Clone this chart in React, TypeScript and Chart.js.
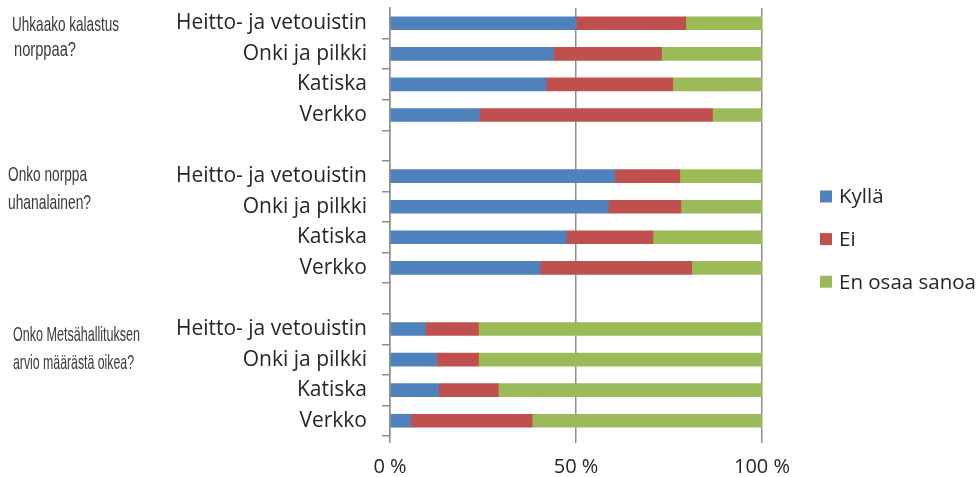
import React, { useEffect, useRef } from "react";
import { Chart, registerables } from "chart.js";

Chart.register(...registerables);

// ---- data ----
const categories = [
  "Heitto- ja vetouistin",
  "Onki ja pilkki",
  "Katiska",
  "Verkko",
  "",
  "Heitto- ja vetouistin",
  "Onki ja pilkki",
  "Katiska",
  "Verkko",
  "",
  "Heitto- ja vetouistin",
  "Onki ja pilkki",
  "Katiska",
  "Verkko",
];
const seriesNames = ["Kyllä", "Ei", "En osaa sanoa"];
const kylla = [50, 44, 42, 24, null, 60.4, 58.7, 47.4, 40.4, null, 9.5, 12.5, 13.1, 5.5];
const ei = [29.5, 29, 34, 62.7, null, 17.5, 19.5, 23.3, 40.7, null, 14.3, 11.3, 16, 32.7];
const enOsaa = [20.5, 27, 24, 13.3, null, 22.1, 21.8, 29.3, 18.9, null, 76.2, 76.2, 70.9, 61.8];
const xTickValues = [0, 50, 100];
const groupQuestions = [
  ["Uhkaako kalastus", "norppaa?"],
  ["Onko norppa", "uhanalainen?"],
  ["Onko Metsähallituksen", "arvio määrästä oikea?"],
];

// ---- layout / style ----
const colors = ["#4F81BD", "#C0504D", "#9BBB59"];
const gridColor = "#8f8f8f";
const textColor = "#262626";
const groupLayout = [
  { x: [12, 14], y: [31, 56], w: [107, 62] },
  { x: [8, 8], y: [181, 209], w: [79, 83] },
  { x: [13, 13], y: [341, 369], w: [127, 121] },
];

const sidePlugin = {
  id: "sideTexts",
  afterDraw(chart: any) {
    const ctx = chart.ctx as CanvasRenderingContext2D;
    ctx.save();
    // group questions
    ctx.font = '21px "Liberation Sans"';
    ctx.fillStyle = "#3a3a3a";
    ctx.textBaseline = "alphabetic";
    ctx.textAlign = "left";
    groupQuestions.forEach((lines, gi) => {
      lines.forEach((t, li) => {
        const m = ctx.measureText(t).width;
        const lay = groupLayout[gi];
        ctx.save();
        ctx.translate(lay.x[li], lay.y[li]);
        ctx.scale(lay.w[li] / m, 1);
        ctx.fillText(t, 0, 0);
        ctx.restore();
      });
    });
    // legend
    ctx.font = '20.5px "Open Sans"';
    ctx.textBaseline = "middle";
    chart.data.datasets.forEach((ds: any, i: number) => {
      const cy = 196.5 + i * 42.6;
      ctx.fillStyle = ds.backgroundColor;
      ctx.fillRect(820, cy - 6, 12, 12);
      ctx.fillStyle = textColor;
      ctx.fillText(ds.label, 839, cy + 1);
    });
    ctx.restore();
  },
};

export default function App() {
  const ref = useRef<HTMLCanvasElement | null>(null);
  useEffect(() => {
    if (!ref.current) return;
    const chart = new Chart(ref.current, {
      type: "bar",
      data: {
        labels: categories,
        datasets: [kylla, ei, enOsaa].map((d, i) => ({
          label: seriesNames[i],
          data: d as any,
          backgroundColor: colors[i],
          borderWidth: 0,
          barThickness: 13,
        })),
      },
      options: {
        indexAxis: "y",
        animation: false,
        responsive: false,
        layout: { padding: { left: 0, right: 218, top: 8, bottom: 0 } },
        plugins: { legend: { display: false }, tooltip: { enabled: false } },
        scales: {
          x: {
            stacked: true,
            min: 0,
            max: 100,
            afterBuildTicks: (s: any) => {
              s.ticks = xTickValues.map((v) => ({ value: v }));
            },
            afterFit: (s: any) => {
              s.height = 41;
              s.paddingLeft = 0;
              s.paddingRight = 0;
            },
            border: { display: false },
            grid: { color: gridColor, lineWidth: 1.5, tickLength: 7, drawTicks: true },
            ticks: {
              padding: 12,
              color: textColor,
              font: { family: "Open Sans", size: 20 },
              callback: (v: any) => `${v} %`,
            },
          },
          y: {
            stacked: true,
            afterFit: (s: any) => {
              s.width = 390;
              s.paddingTop = 0;
              s.paddingBottom = 0;
            },
            border: { display: true, color: gridColor, width: 1.5 },
            grid: {
              offset: true,
              drawOnChartArea: false,
              tickLength: 8,
              lineWidth: 1.5,
              color: (c: any) => (c.index === 0 ? "rgba(0,0,0,0)" : gridColor),
            },
            ticks: {
              padding: 15,
              color: textColor,
              font: { family: "Open Sans", size: 21 },
              autoSkip: false,
            },
          },
        },
      },
      plugins: [sidePlugin],
    });
    return () => chart.destroy();
  }, []);
  return (
    <div style={{ position: "absolute", left: 0, top: 0, width: 980, height: 477, background: "#fff" }}>
      <canvas ref={ref} width={980} height={477} style={{ display: "block" }} />
    </div>
  );
}
